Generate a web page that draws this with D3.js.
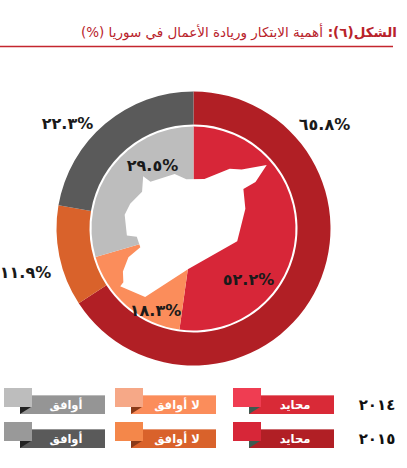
<!DOCTYPE html>
<html lang="ar">
<head>
<meta charset="UTF-8">
<title>Syria innovation chart</title>
<script src="https://d3js.org/d3.v7.min.js"></script>
<style>
    body { margin: 0; background: #fff; }
    svg { display: block; }
    text { font-family: "DejaVu Sans", sans-serif; }
</style>
</head>
<body>
<script>
    // data
    var categories = ['محايد', 'لا أوافق', 'أوافق'];
    var years = ['2014', '2015'];
    var values2014 = [52.2, 18.3, 29.5];
    var values2015 = [65.8, 11.9, 22.3];

    // colours: inner pie = 2014, outer ring = 2015
    var colors2014 = ['#d72638', '#fb8d5b', '#bdbdbd'];
    var colors2015 = ['#b11f25', '#d9622b', '#5a5a5a'];
    var squares2014 = ['#ef3d52', '#f6a887', '#bdbdbd'];
    var squares2015 = ['#d72638', '#f4874a', '#999999'];
    var folds = ['#3d5a50', '#8a3a18', '#222222'];

    // rough outline of Syria (lon, lat)
    var syriaBorder = [[38.79,33.38],[36.83,32.31],[35.72,32.71],[35.70,32.72],[35.84,32.87],[35.82,33.28],
        [36.07,33.82],[36.61,34.20],[36.45,34.59],[36.00,34.64],[35.90,35.41],[36.15,35.82],[36.42,36.04],
        [36.69,36.26],[36.74,36.82],[37.07,36.62],[38.17,36.90],[38.70,36.71],[39.52,36.72],[40.67,37.09],
        [41.21,37.07],[42.35,37.23],[41.84,36.61],[41.29,36.36],[41.38,35.63],[41.01,34.42],[38.79,33.38]];

    var w = 407, h = 468;
    var cx = 193.5, cy = 228.5;

    var arabicDigits = '٠١٢٣٤٥٦٧٨٩';
    function toArabic(s) {
        return String(s).replace(/[0-9]/g, function(c) { return arabicDigits[+c]; });
    }

    var svg = d3.select('body').append('svg')
        .attr('width', w)
        .attr('height', h);

    // title
    var title = svg.append('text')
        .attr('x', 397)
        .attr('y', 37)
        .attr('direction', 'rtl')
        .attr('text-anchor', 'start')
        .attr('font-size', 13.5)
        .attr('fill', '#b9232b');
    title.append('tspan').attr('font-weight', 'bold').text('الشكل(' + toArabic(6) + '): ');
    title.append('tspan').text('أهمية الابتكار وريادة الأعمال في سوريا (%)');

    svg.append('line')
        .attr('x1', 0).attr('x2', 393)
        .attr('y1', 46.5).attr('y2', 46.5)
        .attr('stroke', '#c4262e')
        .attr('stroke-width', 1.5);

    var pie = d3.pie().sort(null).value(function(d) { return d; });
    var g = svg.append('g').attr('transform', 'translate(' + cx + ',' + cy + ')');

    var outerArc = d3.arc().innerRadius(104).outerRadius(137);
    var innerArc = d3.arc().innerRadius(0).outerRadius(102);

    g.selectAll('path.outer')
        .data(pie(values2015))
        .enter()
        .append('path')
        .attr('class', 'outer')
        .attr('d', outerArc)
        .attr('fill', function(d, i) { return colors2015[i]; });

    g.selectAll('path.inner')
        .data(pie(values2014))
        .enter()
        .append('path')
        .attr('class', 'inner')
        .attr('d', innerArc)
        .attr('fill', function(d, i) { return colors2014[i]; });

    // the map of Syria in the middle
    var projection = d3.geoMercator()
        .fitExtent([[120, 165], [267, 297]], {type: 'MultiPoint', coordinates: syriaBorder});
    svg.append('path')
        .attr('d', d3.line()(syriaBorder.map(function(p) { return projection(p); })) + 'Z')
        .attr('fill', '#fff');

    // value labels (offsets from the centre)
    var outerLabelPos = [[131, -104], [-168, 44], [-126, -105]];
    var innerLabelPos = [[55, 51], [-38, 82], [-41, -63]];

    function addLabels(values, pos) {
        g.selectAll(null)
            .data(values)
            .enter()
            .append('text')
            .attr('x', function(d, i) { return pos[i][0]; })
            .attr('y', function(d, i) { return pos[i][1]; })
            .attr('dy', '0.35em')
            .attr('text-anchor', 'middle')
            .attr('font-size', 16)
            .attr('font-weight', 'bold')
            .attr('fill', '#1a1a1a')
            .text(function(d) { return toArabic(d.toFixed(1)) + '%'; });
    }
    addLabels(values2015, outerLabelPos);
    addLabels(values2014, innerLabelPos);

    // legend
    var itemX = [233, 115, 4];
    var rowY = [388, 422];
    var rowSquares = [squares2014, squares2015];
    var barColors2014 = ['#d92a37', '#fb8d5b', '#959595'];
    var barColors = [barColors2014, colors2015];

    rowY.forEach(function(y0, r) {
        categories.forEach(function(cat, i) {
            var x0 = itemX[i];
            var item = svg.append('g').attr('transform', 'translate(' + x0 + ',' + y0 + ')');
            item.append('rect')
                .attr('x', 16).attr('y', 7)
                .attr('width', 85).attr('height', 19)
                .attr('fill', barColors[r][i]);
            item.append('rect')
                .attr('x', 16).attr('y', 7)
                .attr('width', 85).attr('height', 1)
                .attr('fill', '#fff').attr('opacity', 0.35);
            item.append('rect')
                .attr('x', 0).attr('y', 0)
                .attr('width', 28).attr('height', 19)
                .attr('fill', rowSquares[r][i]);
            item.append('path')
                .attr('d', 'M16,19L27,19L16,26Z')
                .attr('fill', folds[i]);
            item.append('text')
                .attr('x', 62).attr('y', 17)
                .attr('dy', '0.35em')
                .attr('text-anchor', 'middle')
                .attr('font-size', 11.5)
                .attr('font-weight', 'bold')
                .attr('fill', '#fff')
                .text(cat);
        });

        svg.append('text')
            .attr('x', 377)
            .attr('y', y0 + 17)
            .attr('dy', '0.35em')
            .attr('text-anchor', 'middle')
            .attr('font-size', 15)
            .attr('font-weight', 'bold')
            .attr('fill', '#111')
            .text(toArabic(years[r]));
    });
</script>
</body>
</html>
